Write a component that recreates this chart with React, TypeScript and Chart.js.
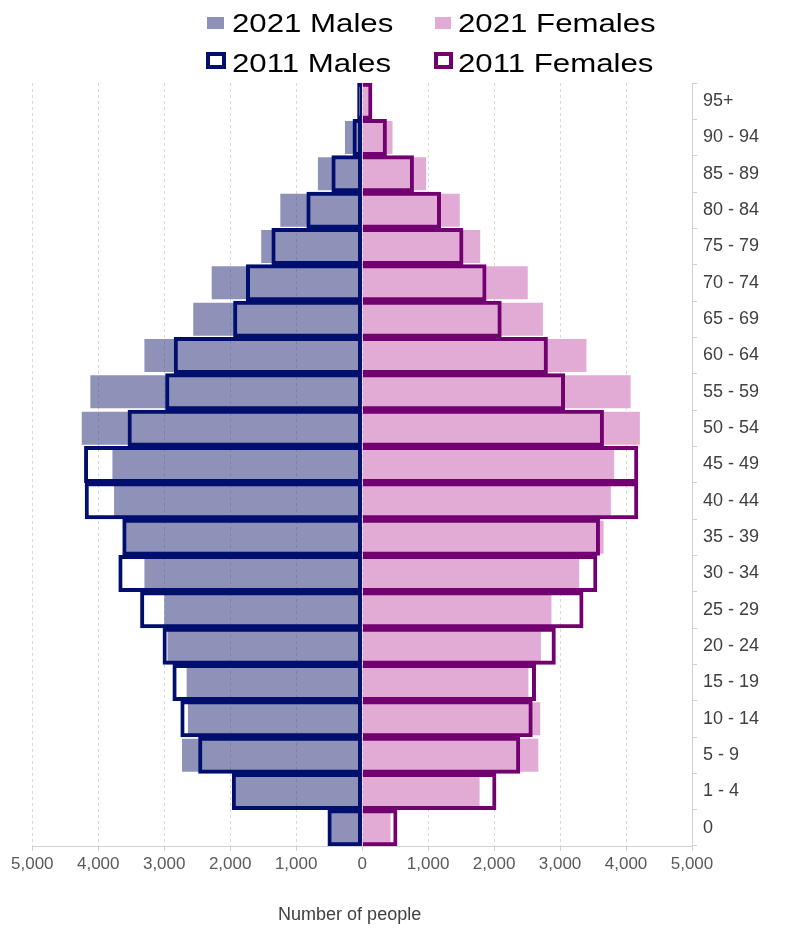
import React, { useEffect, useRef } from 'react';
import { Chart, registerables } from 'chart.js';

Chart.register(...registerables);

const ageGroups = [
  '0', '1 - 4', '5 - 9', '10 - 14', '15 - 19', '20 - 24', '25 - 29', '30 - 34',
  '35 - 39', '40 - 44', '45 - 49', '50 - 54', '55 - 59', '60 - 64', '65 - 69',
  '70 - 74', '75 - 79', '80 - 84', '85 - 89', '90 - 94', '95+',
];

const males2021 = [480, 1930, 2730, 2640, 2660, 2950, 3000, 3300, 3600, 3760, 3785, 4250, 4120, 3300, 2560, 2280, 1530, 1240, 670, 260, 60];
const females2021 = [430, 1780, 2670, 2700, 2520, 2710, 2870, 3290, 3660, 3770, 3820, 4210, 4070, 3400, 2740, 2510, 1790, 1480, 970, 460, 130];
const males2011 = [520, 1970, 2480, 2750, 2870, 3020, 3360, 3690, 3630, 4200, 4210, 3550, 2980, 2850, 1950, 1755, 1370, 840, 460, 140, 70];
const females2011 = [530, 2030, 2390, 2580, 2630, 2930, 3350, 3560, 3600, 4180, 4180, 3660, 3070, 2810, 2110, 1880, 1530, 1190, 780, 370, 150];

const xTicks = [-5000, -4000, -3000, -2000, -1000, 0, 1000, 2000, 3000, 4000, 5000];

const NAVY = '#000e6e';
const PURPLE = '#730070';
const MALE_FILL = 'rgba(30, 38, 115, 0.5)';
const FEMALE_FILL = '#e2abd6';
const FONT = "'Liberation Sans', Arial, sans-serif";

// legend swatch boxes and label positions, in container pixels
const legendItems = [
  { label: '2021 Males', color: MALE_FILL, outline: false, box: [199, 9, 17, 12], textX: 224, y: 14.5 },
  { label: '2021 Females', color: FEMALE_FILL, outline: false, box: [427, 9, 16, 12], textX: 450, y: 14.5 },
  { label: '2011 Males', color: NAVY, outline: true, box: [198, 44, 20, 17], textX: 224, y: 54.5 },
  { label: '2011 Females', color: PURPLE, outline: true, box: [426, 44, 19, 17], textX: 450, y: 54.5 },
];

function Legend() {
  return (
    <>
      {legendItems.map((item) => (
        <React.Fragment key={item.label}>
          <div
            style={{
              position: 'absolute',
              left: item.box[0],
              top: item.box[1],
              width: item.box[2],
              height: item.box[3],
              boxSizing: 'border-box',
              background: item.outline ? 'transparent' : item.color,
              border: item.outline ? `4px solid ${item.color}` : 'none',
            }}
          />
          <div
            style={{
              position: 'absolute',
              left: item.textX,
              top: item.y,
              transform: 'translateY(-50%) scaleX(1.2)',
              transformOrigin: 'left center',
              fontFamily: FONT,
              fontSize: 26,
              lineHeight: '32px',
              color: '#000',
              whiteSpace: 'nowrap',
            }}
          >
            {item.label}
          </div>
        </React.Fragment>
      ))}
    </>
  );
}

export default function App() {
  const canvasRef = useRef<HTMLCanvasElement>(null);
  const chartRef = useRef<Chart | null>(null);

  useEffect(() => {
    if (!canvasRef.current) return;
    if (chartRef.current) chartRef.current.destroy();

    chartRef.current = new Chart(canvasRef.current, {
      type: 'bar',
      data: {
        labels: ageGroups,
        datasets: [
          {
            label: '2021 Males',
            data: males2021.map((v) => -v),
            backgroundColor: MALE_FILL,
            borderWidth: 0,
            barPercentage: 0.91,
            categoryPercentage: 1,
            grouped: false,
            order: 3,
          },
          {
            label: '2021 Females',
            data: females2021,
            backgroundColor: FEMALE_FILL,
            borderWidth: 0,
            barPercentage: 0.91,
            categoryPercentage: 1,
            grouped: false,
            order: 2,
          },
          {
            label: '2011 Females',
            data: females2011,
            backgroundColor: 'rgba(0,0,0,0)',
            borderColor: PURPLE,
            borderWidth: 3.3,
            borderSkipped: 'start',
            barPercentage: 1,
            categoryPercentage: 1,
            grouped: false,
            order: 1,
          },
          {
            label: '2011 Males',
            data: males2011.map((v) => -v),
            backgroundColor: 'rgba(0,0,0,0)',
            borderColor: NAVY,
            borderWidth: 3.3,
            borderSkipped: false,
            barPercentage: 1,
            categoryPercentage: 1,
            grouped: false,
            order: 0,
          },
        ],
      },
      options: {
        indexAxis: 'y',
        animation: false,
        responsive: true,
        maintainAspectRatio: false,
        layout: { padding: { left: 23, top: 75, right: 0, bottom: 0 } },
        plugins: {
          legend: { display: false },
          tooltip: { enabled: false },
        },
        scales: {
          x: {
            type: 'linear',
            min: xTicks[0],
            max: xTicks[xTicks.length - 1],
            afterBuildTicks: (scale) => {
              scale.ticks = xTicks.map((value) => ({ value }));
            },
            ticks: {
              font: { family: FONT, size: 17 },
              color: '#595959',
              padding: 3,
              callback: (value) => Math.abs(Number(value)).toLocaleString('en-US'),
            },
            grid: {
              color: '#d9d9d9',
              tickColor: '#d0d0d0',
              tickLength: 5,
            },
            border: { display: true, color: '#d0d0d0', dash: [3, 3] },
            title: {
              display: true,
              text: 'Number of people     ',
              font: { family: FONT, size: 18 },
              color: '#404040',
              padding: { top: 27, bottom: 3 },
            },
          },
          y: {
            type: 'category',
            position: 'right',
            reverse: true,
            offset: true,
            afterFit: (scale) => {
              scale.width = 88;
            },
            ticks: {
              font: { family: FONT, size: 18 },
              color: '#404040',
              padding: 6,
            },
            grid: {
              drawOnChartArea: false,
              drawTicks: true,
              tickLength: 5,
              color: '#d0d0d0',
            },
            border: { display: true, color: '#d0d0d0' },
          },
        },
      },
    });

    return () => {
      if (chartRef.current) {
        chartRef.current.destroy();
        chartRef.current = null;
      }
    };
  }, []);

  return (
    <div style={{ position: 'relative', width: 772, height: 921 }}>
      <canvas ref={canvasRef} style={{ position: 'absolute', left: 0, top: 0 }} />
      <Legend />
    </div>
  );
}
